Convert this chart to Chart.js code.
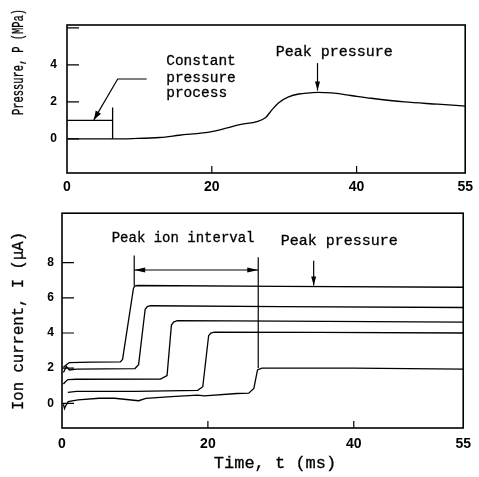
<!DOCTYPE html>
<html lang="en">
<head>
<meta charset="UTF-8">
<title>Pressure and ion current vs time</title>
<script src="https://cdn.jsdelivr.net/npm/chart.js"></script>
<style>
  body { margin: 0; background: #fff; }
  #wrap { position: relative; width: 479px; height: 477px; }
  canvas { position: absolute; left: 0; }
  #pressureChart { top: 0; }
  #ionChart { top: 198px; }
</style>
</head>
<body>
<div id="wrap">
  <canvas id="pressureChart" width="479" height="198"></canvas>
  <canvas id="ionChart" width="479" height="279"></canvas>
</div>
<script>
// tick values
const timeTicks = [0, 20, 40, 55];
const pressureTicks = [0, 2, 4, 6];
const currentTicks = [0, 2, 4, 6, 8];

// pressure trace (ms, MPa)
const pressureTime  = [0, 6.3, 9.1, 12.8, 15.5, 20.0, 23.7, 27.4, 28.3, 29.2, 30.6, 32.0, 33.6, 34.7, 36.5, 39.2, 42.0, 46.6, 51.2, 55];
const pressureValue = [0, 0,   0.02, 0.08, 0.2,  0.4,  0.76, 1.15, 1.57, 1.95, 2.27, 2.43, 2.49, 2.52, 2.49, 2.35, 2.2,  2.0,  1.88, 1.78];

// constant pressure process box
const boxTime  = [0, 6.3];
const boxLevel = [1, 1];
const boxEdgeTime  = [6.3, 6.3];
const boxEdgeLevel = [0, 1.7];

// ion current traces (ms, uA)
const ionTimeA    = [0.2, 0.6, 1.0, 4.0, 8.0, 8.3, 9.8, 10.0, 10.4, 30, 55];
const ionCurrentA = [2.05, 2.2, 2.32, 2.35, 2.36, 2.5, 6.55, 6.68, 6.7, 6.65, 6.6];
const ionTimeB    = [0.2, 0.6, 1.0, 2.0, 10.0, 10.5, 11.4, 11.7, 12.1, 30, 55];
const ionCurrentB = [1.75, 2.1, 1.9, 1.95, 1.98, 2.2, 5.35, 5.5, 5.55, 5.5, 5.45];
const ionTimeC    = [0.2, 0.4, 0.8, 2.0, 13.5, 14.4, 15.0, 15.3, 15.8, 30, 55];
const ionCurrentC = [1.1, 1.2, 1.35, 1.37, 1.38, 1.58, 4.45, 4.62, 4.7, 4.68, 4.62];
const ionTimeD    = [0.8, 2.0, 10, 18.6, 19.3, 20.1, 20.4, 20.9, 35, 55];
const ionCurrentD = [0.62, 0.68, 0.68, 0.74, 0.95, 3.85, 4.0, 4.05, 4.03, 4.0];
const ionTimeE    = [0.2, 0.35, 0.5, 0.85, 2.2, 5.1, 7.2, 10.5, 11.5, 15, 18.6, 19.5, 24, 25.6, 26.3, 26.8, 27.4, 40, 55];
const ionCurrentE = [-0.05, -0.3, -0.15, 0.1, 0.2, 0.29, 0.29, 0.15, 0.28, 0.38, 0.47, 0.43, 0.56, 0.58, 0.85, 1.9, 2.0, 2.0, 1.95];

const MONO = '"Liberation Mono", "Courier New", monospace';
const SANS = '"Liberation Sans", Arial, sans-serif';

function toPoints(ts, vs) {
  return ts.map((t, i) => ({ x: t, y: vs[i] }));
}

function line(ts, vs, extra) {
  return Object.assign({
    data: toPoints(ts, vs),
    borderColor: '#000',
    borderWidth: 1.3,
    pointRadius: 0,
    tension: 0,
    fill: false
  }, extra || {});
}

function arrowHead(ctx, x1, y1, x2, y2, len, half) {
  const a = Math.atan2(y2 - y1, x2 - x1);
  ctx.beginPath();
  ctx.moveTo(x2, y2);
  ctx.lineTo(x2 - len * Math.cos(a) + half * Math.sin(a), y2 - len * Math.sin(a) - half * Math.cos(a));
  ctx.lineTo(x2 - len * Math.cos(a) - half * Math.sin(a), y2 - len * Math.sin(a) + half * Math.cos(a));
  ctx.closePath();
  ctx.fill();
}

// text a little heavier, like the scanned typewriter lettering
function heavyText(ctx, text, x, y, maxWidth) {
  ctx.lineWidth = 0.3;
  ctx.fillText(text, x, y, maxWidth);
  ctx.strokeText(text, x, y, maxWidth);
}

// frame, inward ticks, arrows and labels
const decor = {
  id: 'decor',
  afterDatasetsDraw(chart, args, opts) {
    const { ctx, chartArea: a, scales: { x, y } } = chart;
    const px = v => x.getPixelForValue(v);
    const py = v => y.getPixelForValue(v);
    ctx.save();
    ctx.strokeStyle = '#000';
    ctx.fillStyle = '#000';
    ctx.lineWidth = 1.6;
    ctx.strokeRect(a.left, a.top, a.right - a.left, a.bottom - a.top);

    ctx.lineWidth = 1.2;
    ctx.beginPath();
    y.ticks.forEach(t => { ctx.moveTo(a.left, py(t.value)); ctx.lineTo(a.left + 12, py(t.value)); });
    x.ticks.forEach(t => {
      if (t.value > x.min && t.value < x.max) { ctx.moveTo(px(t.value), a.bottom); ctx.lineTo(px(t.value), a.bottom - 7); }
    });
    ctx.stroke();

    (opts.arrows || []).forEach(ar => {
      const p = ar.pts.map(q => [px(q[0]), py(q[1])]);
      ctx.lineWidth = 1.2;
      ctx.beginPath();
      p.forEach((q, i) => i ? ctx.lineTo(q[0], q[1]) : ctx.moveTo(q[0], q[1]));
      ctx.stroke();
      const n = p.length;
      if (ar.head) arrowHead(ctx, p[n - 2][0], p[n - 2][1], p[n - 1][0], p[n - 1][1], ar.len, ar.half);
      if (ar.both) arrowHead(ctx, p[1][0], p[1][1], p[0][0], p[0][1], ar.len, ar.half);
    });

    ctx.textBaseline = 'middle';
    (opts.notes || []).forEach(n => {
      ctx.font = n.size + 'px ' + MONO;
      ctx.textAlign = n.align || 'center';
      heavyText(ctx, n.text, px(n.t), py(n.v));
    });

    (opts.titles || []).forEach(tt => {
      ctx.save();
      ctx.translate(tt.x, tt.y);
      ctx.rotate(tt.rot || 0);
      ctx.font = (tt.weight || 'normal') + ' ' + tt.size + 'px ' + MONO;
      ctx.textAlign = 'center';
      heavyText(ctx, tt.text, 0, 0, tt.maxWidth);
      ctx.restore();
    });
    ctx.restore();
  }
};

function timeAxis(height, pad) {
  return {
    type: 'linear', min: 0, max: 55,
    grid: { display: false, drawTicks: false },
    border: { display: false },
    afterBuildTicks: s => { s.ticks = timeTicks.map(v => ({ value: v })); },
    afterFit: s => { s.height = height; },
    ticks: { color: '#000', padding: pad, maxRotation: 0, autoSkip: false, font: { family: SANS, size: 14, weight: 'bold' } }
  };
}

function valueAxis(min, max, tickVals, width, pad, hide) {
  return {
    min: min, max: max,
    grid: { display: false, drawTicks: false },
    border: { display: false },
    afterBuildTicks: s => { s.ticks = tickVals.map(v => ({ value: v })); },
    afterFit: s => { s.width = width; },
    ticks: {
      color: '#000', padding: pad,
      font: { family: SANS, size: 12, weight: 'bold' },
      callback: v => (hide.includes(v) ? '' : v)
    }
  };
}

new Chart(document.getElementById('pressureChart'), {
  type: 'line',
  data: {
    datasets: [
      line(pressureTime, pressureValue, { cubicInterpolationMode: 'monotone' }),
      line(boxTime, boxLevel),
      line(boxEdgeTime, boxEdgeLevel)
    ]
  },
  options: {
    responsive: false,
    animation: false,
    events: [],
    layout: { padding: { top: 25, right: 11, left: 0, bottom: 0 } },
    scales: {
      x: timeAxis(25, 6),
      y: valueAxis(-1.84, 6.16, pressureTicks, 67, 10, [6])
    },
    plugins: {
      legend: { display: false },
      tooltip: { enabled: false },
      decor: {
        arrows: [
          { pts: [[11.0, 3.24], [7.0, 3.24], [3.7, 1.03]], head: true, len: 9, half: 3 },
          { pts: [[34.6, 4.1], [34.6, 2.62]], head: true, len: 9, half: 2.5 }
        ],
        notes: [
          { text: 'Constant', t: 13.7, v: 4.18, size: 14.5, align: 'left' },
          { text: 'pressure', t: 13.7, v: 3.3, size: 14.5, align: 'left' },
          { text: 'process', t: 13.7, v: 2.48, size: 14.5, align: 'left' },
          { text: 'Peak pressure', t: 36.9, v: 4.7, size: 15 }
        ],
        titles: [
          { text: 'Pressure, P (MPa)', x: 19, y: 62, rot: -Math.PI / 2, size: 16, maxWidth: 106 }
        ]
      }
    }
  },
  plugins: [decor]
});

new Chart(document.getElementById('ionChart'), {
  type: 'line',
  data: {
    datasets: [
      line(ionTimeA, ionCurrentA),
      line(ionTimeB, ionCurrentB),
      line(ionTimeC, ionCurrentC),
      line(ionTimeD, ionCurrentD),
      line(ionTimeE, ionCurrentE)
    ]
  },
  options: {
    responsive: false,
    animation: false,
    events: [],
    layout: { padding: { top: 4, right: 10, left: 0, bottom: 0 } },
    scales: {
      x: timeAxis(49, 8),
      y: valueAxis(-1.4, 10.81, currentTicks, 62, 8, [])
    },
    plugins: {
      legend: { display: false },
      tooltip: { enabled: false },
      decor: {
        arrows: [
          { pts: [[9.9, 8.4], [9.9, 6.68]], head: false },
          { pts: [[26.9, 8.3], [26.9, 2.0]], head: false },
          { pts: [[9.9, 7.58], [26.9, 7.58]], head: true, both: true, len: 11, half: 2.5 },
          { pts: [[34.5, 8.1], [34.5, 6.7]], head: true, len: 9, half: 2.5 }
        ],
        notes: [
          { text: 'Peak ion interval', t: 16.6, v: 9.4, size: 14 },
          { text: 'Peak pressure', t: 38.0, v: 9.24, size: 15 }
        ],
        titles: [
          { text: 'Ion current, I (\u03bcA)', x: 19, y: 123, rot: -Math.PI / 2, size: 16, maxWidth: 178 },
          { text: 'Time, t (ms)', x: 275, y: 265, rot: 0, size: 17 }
        ]
      }
    }
  },
  plugins: [decor]
});
</script>
</body>
</html>
